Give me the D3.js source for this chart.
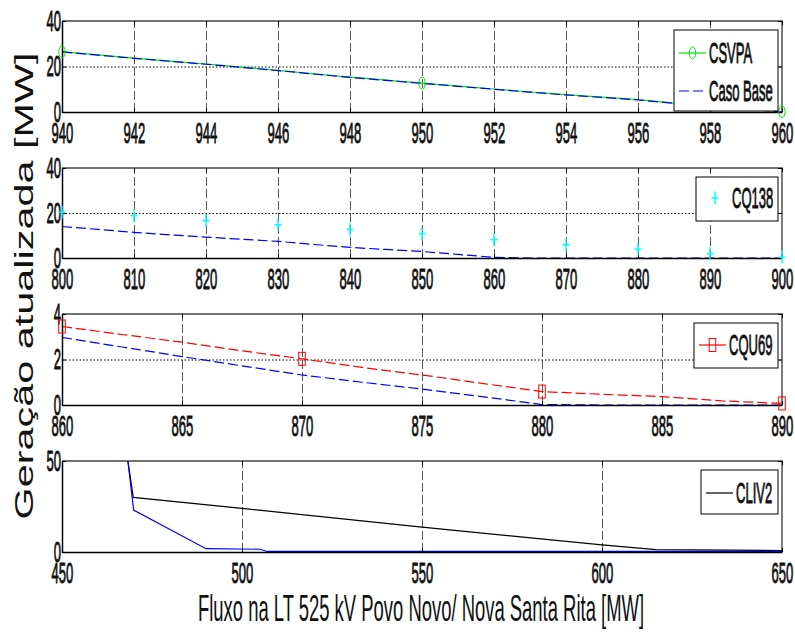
<!DOCTYPE html>
<html>
<head>
<meta charset="utf-8">
<script src="https://cdn.jsdelivr.net/npm/d3@7"></script>
<style>
    body { margin: 0; background: #fff; }
    svg { display: block; font-family: "Liberation Sans", Arial, sans-serif; }
</style>
</head>
<body>
<svg id="chart" width="795" height="632"></svg>
<script>
// ---------------- 資料 ----------------
// 面板 1：CSVPA
const fluxo1 = [940, 941, 942, 943, 944, 945, 946, 947, 948, 949, 950, 951, 952, 953, 954, 955, 956, 957, 958, 959, 960];
const casoBase1 = [26.4, 25.0, 23.6, 22.3, 21.0, 19.6, 18.2, 16.7, 15.2, 13.9, 12.6, 11.3, 10.0, 8.7, 7.5, 6.4, 5.3, 3.8, 2.6, 1.3, 0];
const csvpa1 = [26.5, 25.1, 23.7, 22.4, 21.1, 19.7, 18.3, 16.8, 15.3, 14.0, 12.7, 11.4, 10.1, 8.8, 7.6, 6.5, 5.4, 3.9, 2.7, 1.4, 0.1];
const csvpaMarks = [940, 950, 960];
const xTicks1 = [940, 942, 944, 946, 948, 950, 952, 954, 956, 958, 960];
const yTicks1 = [0, 20, 40];

// 面板 2：CQ138
const fluxo2 = [800, 805, 810, 815, 820, 825, 830, 835, 840, 845, 850, 855, 860, 865, 870, 875, 880, 885, 890, 895, 900];
const casoBase2 = [14.0, 12.7, 11.4, 10.3, 9.3, 8.3, 7.4, 6.0, 4.7, 3.8, 2.9, 1.6, 0.3, 0, 0, 0, 0, 0, 0, 0, 0];
const cq138X = [800, 810, 820, 830, 840, 850, 860, 870, 880, 890, 900];
const cq138 = [20.4, 18.8, 16.7, 14.8, 12.6, 10.8, 8.1, 5.9, 4.0, 1.9, 0.4];
const xTicks2 = [800, 810, 820, 830, 840, 850, 860, 870, 880, 890, 900];
const yTicks2 = [0, 20, 40];

// 面板 3：CQU69
const fluxo3 = [860, 862.5, 865, 867.5, 870, 872.5, 875, 877.5, 880, 882.5, 885, 887.5, 890];
const casoBase3 = [2.97, 2.55, 2.13, 1.72, 1.32, 1.0, 0.70, 0.37, 0.02, 0, 0, 0, 0];
const cqu69 = [3.45, 3.1, 2.76, 2.38, 2.03, 1.65, 1.32, 0.95, 0.59, 0.47, 0.37, 0.18, 0.07];
const cqu69Marks = [860, 870, 880, 890];
const xTicks3 = [860, 865, 870, 875, 880, 885, 890];
const yTicks3 = [0, 2, 4];

// 面板 4：CLIV2
const fluxo4Base = [468.3, 469.9, 490, 505, 507, 650];
const casoBase4 = [50, 23, 1.8, 1.5, 0.3, 0.3];
const fluxo4Cliv = [468.3, 469.8, 500, 550, 600, 615, 650];
const cliv2 = [50, 30, 24, 13.7, 3.9, 1.3, 0.8];
const xTicks4 = [450, 500, 550, 600, 650];
const yTicks4 = [0, 50];

// ---------------- 版面 ----------------
const svg = d3.select("#chart");
const left = 62, right = 782;
const sx = 0.45;      // 文字橫向壓縮（原圖被垂直拉長）
const fontSize = 29;

const pairs = (xs, ys) => xs.map((x, i) => [x, ys[i]]);

const panels = [
    {
        top: 21, bottom: 112, xTicks: xTicks1, yTicks: yTicks1,
        series: [
            { data: pairs(fluxo1, csvpa1), color: "#00e600", dash: null, marker: "circle", marks: csvpaMarks },
            { data: pairs(fluxo1, casoBase1), color: "#0000ff", dash: "10,4" }
        ],
        legend: {
            x: 674, y: 30, w: 104, h: 81,
            items: [
                { label: "CSVPA", y: 53, color: "#00e600", dash: null, marker: "circle" },
                { label: "Caso Base", y: 91, color: "#0000ff", dash: "10,4" }
            ]
        }
    },
    {
        top: 168, bottom: 258, xTicks: xTicks2, yTicks: yTicks2,
        series: [
            { data: pairs(fluxo2, casoBase2), color: "#0000ff", dash: "10,4" },
            { data: pairs(cq138X, cq138), color: "#00ffff", noLine: true, marker: "plus", marks: cq138X }
        ],
        legend: {
            x: 696, y: 177, w: 82, h: 44,
            items: [{ label: "CQ138", y: 198, color: "#00ffff", noLine: true, marker: "plus" }]
        }
    },
    {
        top: 314, bottom: 405, xTicks: xTicks3, yTicks: yTicks3,
        series: [
            { data: pairs(fluxo3, casoBase3), color: "#0000ff", dash: "10,4" },
            { data: pairs(fluxo3, cqu69), color: "#ff0000", dash: "10,4", marker: "square", marks: cqu69Marks }
        ],
        legend: {
            x: 694, y: 323, w: 84, h: 45,
            items: [{ label: "CQU69", y: 345, color: "#ff0000", dash: null, marker: "square" }]
        }
    },
    {
        top: 461, bottom: 552, xTicks: xTicks4, yTicks: yTicks4,
        series: [
            { data: pairs(fluxo4Cliv, cliv2), color: "#000000", dash: null },
            { data: pairs(fluxo4Base, casoBase4), color: "#0000ff", dash: null }
        ],
        legend: {
            x: 701, y: 470, w: 77, h: 44,
            items: [{ label: "CLIV2", y: 493, color: "#000000", dash: null }]
        }
    }
];

// 畫標記
function drawMarker(g, type, cx, cy, color) {
    if (type === "circle") {
        g.append("ellipse").attr("cx", cx).attr("cy", cy).attr("rx", 3.2).attr("ry", 6)
            .attr("fill", "none").attr("stroke", color).attr("stroke-width", 1);
    } else if (type === "square") {
        g.append("rect").attr("x", cx - 3.3).attr("y", cy - 6.5).attr("width", 6.6).attr("height", 13)
            .attr("fill", "none").attr("stroke", color).attr("stroke-width", 1);
    } else if (type === "plus") {
        g.append("path").attr("d", `M${cx - 3.5},${cy}H${cx + 3.5}M${cx},${cy - 6.5}V${cy + 6.5}`)
            .attr("fill", "none").attr("stroke", color).attr("stroke-width", 1.4);
    }
}

// 文字加粗一點（壓縮後筆畫太細）
function inkText(sel) {
    sel.attr("font-size", fontSize)
        .attr("fill", "#111")
        .attr("stroke", "#111")
        .attr("stroke-width", 0.9);
}

panels.forEach((p, idx) => {
    const x = d3.scaleLinear().domain([p.xTicks[0], p.xTicks[p.xTicks.length - 1]]).range([left, right]);
    const y = d3.scaleLinear().domain([p.yTicks[0], p.yTicks[p.yTicks.length - 1]]).range([p.bottom, p.top]);
    const h = p.bottom - p.top;
    const g = svg.append("g");

    // clip
    const clipId = "clip" + idx;
    svg.append("clipPath").attr("id", clipId)
        .append("rect").attr("x", left).attr("y", p.top - 1).attr("width", right - left).attr("height", h + 2);

    // 格線：垂直虛線
    g.append("g")
        .attr("transform", `translate(0,${p.bottom})`)
        .call(d3.axisBottom(x).tickValues(p.xTicks.slice(1, -1)).tickSize(-h).tickFormat(""))
        .call(a => a.select(".domain").remove())
        .call(a => a.selectAll("line").attr("stroke", "#555").attr("stroke-dasharray", "9,3"));

    // 格線：水平點線
    g.append("g")
        .attr("transform", `translate(${left},0)`)
        .call(d3.axisLeft(y).tickValues(p.yTicks.slice(1, -1)).tickSize(-(right - left)).tickFormat(""))
        .call(a => a.select(".domain").remove())
        .call(a => a.selectAll("line").attr("stroke", "#000").attr("stroke-dasharray", "1.5,2"));

    // 外框（上、右）
    g.append("path")
        .attr("d", `M${left},${p.top}H${right}V${p.bottom}`)
        .attr("fill", "none").attr("stroke", "#444").attr("stroke-width", 1.4);

    // 右側與上方內刻度
    g.append("g").attr("transform", `translate(${right},0)`)
        .call(d3.axisRight(y).tickValues(p.yTicks).tickSize(-4).tickFormat(""))
        .call(a => a.select(".domain").remove());
    g.append("g").attr("transform", `translate(0,${p.top})`)
        .call(d3.axisTop(x).tickValues(p.xTicks).tickSize(-4).tickFormat(""))
        .call(a => a.select(".domain").remove());

    // 線條
    const line = d3.line().x(d => x(d[0])).y(d => y(d[1]));
    const lines = g.append("g").attr("clip-path", `url(#${clipId})`);
    p.series.forEach(s => {
        if (s.noLine) return;
        lines.append("path")
            .datum(s.data)
            .attr("d", line)
            .attr("fill", "none")
            .attr("stroke", s.color)
            .attr("stroke-width", 1.2)
            .attr("stroke-dasharray", s.dash);
    });

    // X 軸
    g.append("g")
        .attr("transform", `translate(0,${p.bottom})`)
        .call(d3.axisBottom(x).tickValues(p.xTicks).tickFormat(d3.format("d")).tickSizeInner(-4).tickSizeOuter(0))
        .attr("font-size", null).attr("font-family", null)
        .call(a => a.select(".domain").attr("stroke", "#000").attr("stroke-width", 1.5))
        .call(a => a.selectAll(".tick text")
            .attr("y", null).attr("dy", null)
            .call(inkText)
            .attr("transform", `translate(0,31) scale(${sx},1)`));

    // Y 軸
    g.append("g")
        .attr("transform", `translate(${left},0)`)
        .call(d3.axisLeft(y).tickValues(p.yTicks).tickFormat(d3.format("d")).tickSizeInner(-4).tickSizeOuter(0))
        .attr("font-size", null).attr("font-family", null)
        .call(a => a.select(".domain").attr("stroke", "#000").attr("stroke-width", 1.5))
        .call(a => a.selectAll(".tick text")
            .attr("x", null).attr("dy", "0.35em")
            .call(inkText)
            .attr("transform", `translate(-1,-1) scale(${sx},1)`));

    // 標記（不裁切）
    p.series.forEach(s => {
        if (!s.marker) return;
        s.data.filter(d => s.marks.includes(d[0]))
            .forEach(d => drawMarker(g, s.marker, x(d[0]), y(d[1]), s.color));
    });

    // 圖例
    const L = p.legend;
    const lg = g.append("g");
    lg.append("rect")
        .attr("x", L.x).attr("y", L.y).attr("width", L.w).attr("height", L.h)
        .attr("fill", "#fff").attr("stroke", "#000").attr("stroke-width", 1);
    L.items.forEach(it => {
        const x0 = L.x + 5, x1 = L.x + 32, xm = (x0 + x1) / 2;
        if (!it.noLine) {
            lg.append("line")
                .attr("x1", x0).attr("x2", x1).attr("y1", it.y).attr("y2", it.y)
                .attr("stroke", it.color).attr("stroke-width", 1.2)
                .attr("stroke-dasharray", it.dash);
        }
        if (it.marker) drawMarker(lg, it.marker, it.noLine ? L.x + 19 : xm, it.y, it.color);
        lg.append("text")
            .attr("transform", `translate(${L.x + (it.noLine ? 36 : 35)},${it.y}) scale(${sx},1)`)
            .attr("dy", "0.35em")
            .call(inkText)
            .text(it.label);
    });
});

// 軸標題
svg.append("text")
    .attr("transform", "translate(33,286) rotate(-90)")
    .attr("text-anchor", "middle")
    .attr("font-size", 25)
    .attr("textLength", 467)
    .attr("lengthAdjust", "spacingAndGlyphs")
    .attr("fill", "#111")
    .text("Geração atualizada [MW]");

svg.append("text")
    .attr("x", 421).attr("y", 621)
    .attr("text-anchor", "middle")
    .attr("font-size", 37)
    .attr("textLength", 446)
    .attr("lengthAdjust", "spacingAndGlyphs")
    .attr("fill", "#111")
    .text("Fluxo na LT 525 kV Povo Novo/ Nova Santa Rita [MW]");
</script>
</body>
</html>
